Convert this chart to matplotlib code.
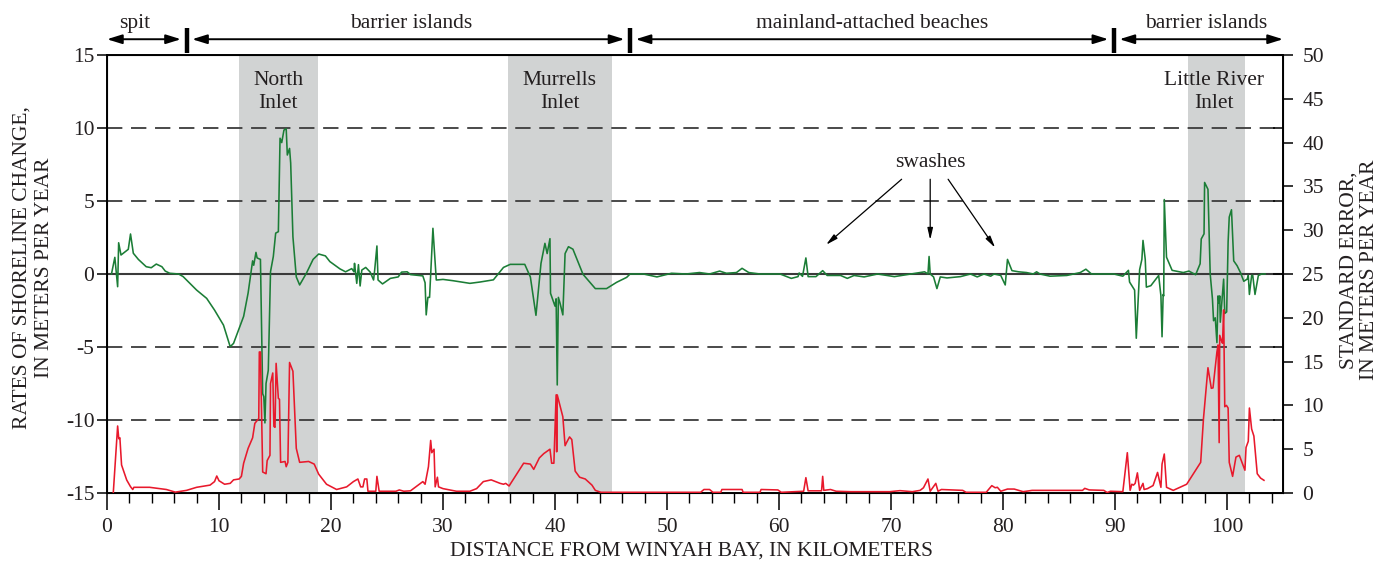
import matplotlib
matplotlib.use("Agg")
import matplotlib.pyplot as plt
import numpy as np

plt.rcParams['font.family'] = ['Liberation Serif', 'DejaVu Serif']
plt.rcParams['axes.unicode_minus'] = False

# ---------------- data ----------------
rate_km = [0.4, 0.7, 0.95, 1.04, 1.25, 1.9, 2.1, 2.35, 2.8, 3.5, 3.95, 4.4, 4.9, 5.2, 5.6, 6.4, 6.8,
           8.0, 8.9, 9.6, 10.4, 11.0, 11.3, 12.2, 12.6, 13.0, 13.1, 13.3, 13.4, 13.7, 13.9, 14.0, 14.1,
           14.2, 14.4, 14.6, 14.85, 15.06, 15.3, 15.45, 15.6, 15.8, 16.0, 16.1, 16.3, 16.4, 16.6, 16.9,
           17.2, 17.8, 18.4, 18.9, 19.5, 19.9, 20.8, 21.3, 21.85, 22.05, 22.1, 22.3, 22.45, 22.6, 22.75,
           23.1, 23.5, 23.8, 23.9, 24.1, 24.2, 24.6, 25.3, 26.0, 26.3, 26.8, 27.1, 28.2, 28.4, 28.5,
           28.65, 28.8, 28.9, 29.1, 29.4, 29.6, 30.0, 30.9, 32.4, 33.3, 34.5, 35.4, 36.0, 37.3, 37.8,
           38.3, 38.75, 39.1, 39.3, 39.55, 39.6, 40.0, 40.1, 40.2, 40.3, 40.45, 40.7, 40.9, 41.2, 41.6,
           42.5, 43.6, 44.6, 45.5, 46.4, 46.7, 47.9, 49.1, 50.4, 51.7, 52.9, 53.8, 54.7, 55.3, 56.2,
           56.7, 57.3, 58.3, 60.1, 61.1, 61.7, 61.8, 62.1, 62.4, 62.6, 63.3, 63.9, 64.3, 65.5, 66.1,
           66.7, 67.6, 68.8, 70.3, 71.8, 73.0, 73.3, 73.4, 73.5, 73.8, 74.1, 74.4, 75.0, 76.2, 77.1,
           77.7, 78.3, 78.9, 79.2, 79.8, 80.2, 80.4, 80.8, 81.4, 82.1, 82.7, 83.0, 83.3, 84.2, 85.7,
           86.9, 87.4, 87.9, 89.9, 90.7, 91.2, 91.3, 91.75, 91.9, 92.2, 92.4, 92.5, 92.7, 92.8, 93.2,
           93.9, 94.1, 94.2, 94.3, 94.35, 94.4, 94.6, 95.1, 96.1, 96.6, 97.2, 97.6, 97.7, 97.95, 98.0,
           98.3, 98.5, 98.7, 98.8, 98.95, 99.1, 99.2, 99.3, 99.35, 99.4, 99.7, 99.8, 99.97, 100.1,
           100.2, 100.4, 100.6, 100.9, 101.2, 101.5, 101.8, 101.9, 102.0, 102.2, 102.3, 102.5, 102.8,
           103.1, 103.4]
rate_val = [0, 1.14, -0.87, 2.14, 1.3, 1.69, 2.74, 1.42, 1.0, 0.5, 0.43, 0.68, 0.5, 0.2, 0.05, 0.0, -0.18,
            -1.1, -1.67, -2.47, -3.5, -4.98, -4.75, -2.9, -1.3, 0.9, 0.6, 1.48, 1.1, 1.0, -8.2, -8.4, -10.2,
            -7.5, -6.6, 0.16, 1.2, 2.8, 2.9, 9.3, 9.0, 9.86, 9.95, 8.15, 8.6, 7.6, 2.55, -0.2,
            -0.75, 0.05, 1.0, 1.37, 1.24, 0.85, 0.35, 0.15, 0.37, 0.15, 0.73, -0.64, 0.64, -0.82, 0.27,
            0.45, 0.13, -0.41, 0.27, 1.92, -0.41, -0.68, -0.3, -0.2, 0.13, 0.15, -0.04, -0.13, -0.6, -2.8,
            -1.6, -1.6, 0.0, 3.13, -0.41, -0.4, -0.37, -0.46, -0.64, -0.55, -0.4, 0.45, 0.66, 0.66, -0.2,
            -2.83, 0.73, 2.1, 1.4, 2.42, -1.32, -2.2, -1.7, -7.6, -1.6, -2.0, -2.8, 1.4, 1.87, 1.7,
            -0.02, -1.0, -1.0, -0.57, -0.23, 0, 0, -0.2, 0.05, 0, 0.1, 0, 0.2, 0.05, 0.1,
            0.39, 0.1, 0, 0, -0.3, -0.18, 0.07, -0.16, 1.1, -0.18, -0.18, 0.23, -0.1, -0.1, -0.3,
            -0.1, -0.2, 0, -0.18, 0, 0.15, 0, 1.2, 0, -0.2, -1.0, -0.2, -0.27, -0.18, 0,
            -0.2, 0, -0.15, 0, -0.1, -0.75, 1.0, 0.23, 0.15, 0.1, 0, 0.15, 0, -0.15, -0.1,
            0.1, 0.33, 0, 0, -0.15, 0.25, -0.55, -1.1, -4.4, 0.3, 1.0, 2.3, 1.0, -0.9, -0.8,
            -0.1, -1.5, -4.3, -1.4, -1.5, 5.1, 1.15, 0.25, 0.1, 0.2, -0.05, 0.7, 2.4, 2.75, 6.27,
            5.8, 0, -1.7, -3.2, -3.0, -4.7, -1.5, -2.0, -1.5, -3.3, -0.35, -2.7, -2.6, 2.2,
            3.9, 4.4, 0.9, 0.57, 0.1, -0.5, -0.35, -0.1, -1.4, -0.1, -0.1, -1.4, -0.1,
            0, 0]

se_km = [0.56, 0.95, 1.05, 1.15, 1.3, 1.76, 2.1, 2.3, 2.4, 3.8, 5.3, 6.1, 7.1, 8.0, 9.2, 9.6, 9.8, 10.0,
         10.5, 11.0, 11.3, 11.8, 12.0, 12.2, 12.6, 13.0, 13.2, 13.55, 13.6, 13.7, 13.9, 14.2, 14.3,
         14.55, 14.6, 14.8, 14.9, 15.0, 15.1, 15.3, 15.4, 15.5, 15.9, 16.0, 16.15, 16.3, 16.6, 16.9,
         17.2, 18.0, 18.5, 18.9, 19.6, 20.5, 21.4, 22.0, 22.4, 22.65, 22.85, 23.0, 23.2, 23.3, 24.0,
         24.1, 24.3, 25.8, 26.1, 26.5, 27.1, 28.2, 28.4, 28.7, 28.9, 29.0, 29.2, 29.3, 29.5, 29.6,
         30.0, 31.2, 32.4, 33.0, 33.6, 34.3, 35.1, 35.4, 35.6, 35.9, 36.6, 37.2, 37.8, 38.1, 38.6,
         39.0, 39.55, 39.7, 39.9, 40.1, 40.15, 40.2, 40.4, 40.7, 40.9, 41.05, 41.3, 41.5, 41.8, 42.2,
         42.7, 43.3, 43.6, 44.1, 53.0, 53.3, 53.8, 54.1, 54.8, 54.9, 56.7, 56.8, 58.3, 58.4, 59.9,
         60.2, 62.2, 62.4, 62.6, 63.8, 63.9, 64.0, 64.6, 65.1, 66.4, 69.9, 70.8, 71.9, 72.6, 72.9,
         73.3, 73.5, 74.0, 74.2, 74.5, 76.4, 76.7, 78.5, 79.0, 79.3, 79.5, 79.8, 80.4, 81.0, 81.8,
         82.6, 87.1, 87.3, 87.7, 89.0, 89.3, 89.6, 90.7, 91.1, 91.35, 91.5, 91.65, 91.8, 92.0, 92.2,
         92.5, 92.6, 92.9, 93.4, 93.8, 94.1, 94.2, 94.4, 94.6, 95.2, 95.8, 96.4, 97.0, 97.65, 97.9,
         98.3, 98.6, 98.75, 99.1, 99.2, 99.3, 99.35, 99.5, 99.6, 99.7, 99.8, 99.95, 100.1, 100.2,
         100.5, 100.8, 101.1, 101.4, 101.6, 101.7, 101.9, 102.0, 102.2, 102.4, 102.7, 103.0, 103.3]
se_val = [0, 7.65, 6.2, 6.3, 3.2, 1.48, 0.72, 0.4, 0.65, 0.65, 0.4, 0.1, 0.3, 0.65, 0.9, 1.3, 1.94, 1.4,
          1.0, 1.1, 1.5, 1.6, 1.9, 3.4, 5.1, 6.3, 7.95, 8.5, 16.1, 16.1, 2.4, 2.2, 3.7,
          4.3, 12.5, 13.7, 7.6, 7.5, 14.8, 10.8, 10.7, 3.5, 3.6, 3.0, 3.5, 14.9, 13.9, 5.1,
          3.5, 3.6, 3.3, 2.15, 1.0, 0.4, 0.7, 1.3, 1.6, 0.7, 0.7, 1.6, 1.6, 0.2, 0.2,
          1.9, 0.2, 0.2, 0.35, 0.2, 0.25, 1.3, 1.0, 3.0, 6.0, 4.6, 5.0, 0.7, 1.8, 0.7,
          0.5, 0.2, 0.2, 0.5, 1.3, 1.5, 1.1, 1.0, 1.1, 0.8, 2.2, 3.4, 3.3, 2.7, 4.0,
          4.5, 5.0, 3.4, 3.4, 11.2, 4.7, 11.2, 10.2, 8.7, 5.4, 5.8, 6.4, 6.1, 2.5, 1.8,
          1.6, 0.9, 0.3, 0.08, 0.08, 0.4, 0.4, 0.08, 0.08, 0.4, 0.4, 0.08, 0.08, 0.4, 0.35,
          0.08, 0.2, 1.75, 0.25, 0.25, 1.9, 0.3, 0.4, 0.2, 0.15, 0.15, 0.27, 0.15, 0.3, 0.6,
          1.6, 0.2, 1.1, 0.2, 0.4, 0.3, 0.08, 0.08, 0.84, 0.6, 0.65, 0.2, 0.45, 0.45, 0.15,
          0.3, 0.3, 0.53, 0.35, 0.3, 0.05, 0.2, 0.15, 4.6, 0.3, 1.0, 0.9, 1.1, 2.3, 0.3,
          1.1, 0.4, 0.5, 0.85, 2.35, 0.65, 3.3, 4.45, 0.65, 0.3, 0.65, 1.0, 2.2, 3.5, 8.5,
          14.3, 11.95, 12.0, 16.1, 16.9, 5.75, 18.0, 17.4, 17.1, 20.9, 9.85, 10.0, 9.7, 3.5,
          1.9, 4.1, 4.3, 3.3, 2.6, 5.2, 5.9, 9.7, 7.3, 6.5, 2.2, 1.7, 1.45]

inlet_names = ["North\nInlet", "Murrells\nInlet", "Little River\nInlet"]
inlet_start = [11.8, 35.8, 96.5]
inlet_end = [18.8, 45.1, 101.6]
inlet_label_x = [15.3, 40.4, 98.8]

segment_names = ["spit", "barrier islands", "mainland-attached beaches", "barrier islands"]
segment_start = [0.0, 7.1, 46.7, 89.9]
segment_end = [7.1, 46.7, 89.9, 105.0]
segment_label_x = [2.5, 27.2, 68.3, 98.1]

swash_km = [64.2, 73.5, 79.3]
swash_rate = [2.0, 2.33, 1.8]

# ---------------- figure ----------------
GREEN = "#1b7d36"
RED = "#e8192c"
SHADE = "#d1d3d3"
GRID = "#3c3c3c"
TXT = "#231f20"
FS = 15.5

fig = plt.figure(figsize=(13.92, 5.64), dpi=100)
ax = fig.add_axes([107/1392, 1-493/564, (1283-107)/1392, (493-55)/564])
ax.set_xlim(0, 105)
ax.set_ylim(-15, 15)

for s, e in zip(inlet_start, inlet_end):
    ax.axvspan(s, e, color=SHADE, lw=0, zorder=0)
for name, xc in zip(inlet_names, inlet_label_x):
    ax.text(xc, 12.45, name, ha='center', va='center', fontsize=FS, color=TXT,
            linespacing=1.32, zorder=3)

for yv in [-10, -5, 5, 10]:
    ax.axhline(yv, color=GRID, lw=1.3, dashes=(8.5, 4.8), zorder=1)
ax.axhline(0, color='#3a3a3a', lw=1.5, zorder=1)

ax.plot(rate_km, rate_val, color=GREEN, lw=1.15, zorder=4)

ax.set_yticks(np.arange(-15, 16, 5))
ax.set_xticks(np.arange(0, 101, 10))
ax.set_xticks(np.arange(0, 105, 2), minor=True)
ax.tick_params(axis='x', which='major', direction='out', length=12, width=1.1, labelsize=FS,
               pad=6, labelcolor=TXT)
ax.tick_params(axis='x', which='minor', direction='out', length=7, width=1.0)
ax.tick_params(axis='y', which='major', direction='out', length=7, width=1.1, labelsize=FS,
               pad=2, labelcolor=TXT)
for sp in ax.spines.values():
    sp.set_linewidth(1.2)

# inward ticks of the left scale on the right spine
ax3 = ax.twinx()
ax3.set_ylim(-15, 15)
ax3.set_yticks(np.arange(-15, 16, 5))
ax3.tick_params(axis='y', direction='in', length=7, width=1.1, labelright=False)
ax3.patch.set_visible(False)

ax2 = ax.twinx()
ax2.set_ylim(0, 50)
ax2.set_yticks(np.arange(0, 51, 5))
ax2.tick_params(axis='y', direction='out', length=7, width=1.1, labelsize=FS, pad=7,
                labelcolor=TXT)
ax2.plot(se_km, se_val, color=RED, lw=1.15, zorder=5)
ax2.patch.set_visible(False)
for sp in ax2.spines.values():
    sp.set_linewidth(1.2)

# top segment annotations
for name, s, e, xc in zip(segment_names, segment_start, segment_end, segment_label_x):
    pad_s = 0.5 if s > 0 else 0.0
    pad_e = 0.5 if e < 105 else 0.0
    ax.annotate('', xy=(s + pad_s, 16.08), xytext=(e - pad_e, 16.08), xycoords='data',
                annotation_clip=False,
                arrowprops=dict(arrowstyle='<|-|>,head_length=0.9,head_width=0.28',
                                color='black', lw=1.4, shrinkA=0, shrinkB=0))
    ax.text(xc, 16.85, name, ha='center', va='baseline', fontsize=FS, color=TXT, clip_on=False)
for xb in segment_start[1:]:
    ax.plot([xb, xb], [15.15, 16.85], color='black', lw=3.2, clip_on=False, solid_capstyle='butt')

# swashes annotation
ax.text(73.5, 7.67, "swashes", ha='center', va='center', fontsize=FS, color=TXT, zorder=6)
for sx, sy, tx in zip(swash_km, swash_rate, [70.95, 73.5, 75.1]):
    ax.annotate('', xy=(sx, sy), xytext=(tx, 6.49),
                arrowprops=dict(arrowstyle='-|>,head_length=0.7,head_width=0.16',
                                color='black', lw=0.9, shrinkA=0, shrinkB=0), zorder=6)

fig.text(691/1392, 1-551/564, "DISTANCE FROM WINYAH BAY, IN KILOMETERS", ha='center', va='center',
         fontsize=FS, color=TXT)
fig.text(33/1392, 1-268/564, "RATES OF SHORELINE CHANGE,\nIN METERS PER YEAR", rotation=90,
         ha='center', va='center', fontsize=FS, color=TXT, multialignment='center',
         linespacing=1.22)
fig.text(1359/1392, 1-270/564, "STANDARD ERROR,\nIN METERS PER YEAR", rotation=90,
         ha='center', va='center', fontsize=FS, color=TXT, multialignment='center',
         linespacing=1.12)

fig.savefig("out.png", dpi=100)
